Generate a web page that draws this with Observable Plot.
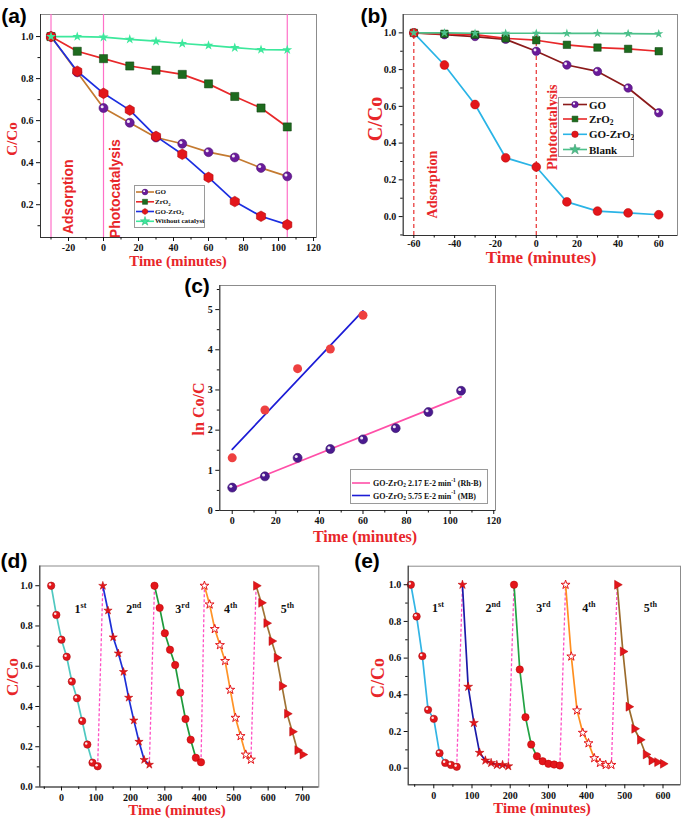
<!DOCTYPE html>
<html><head><meta charset="utf-8">
<script src="https://cdn.jsdelivr.net/npm/d3@7"></script>
<script src="https://cdn.jsdelivr.net/npm/@observablehq/plot@0.6"></script>
<style>
body{margin:0;background:#fff;}
#root{position:relative;width:685px;height:821px;overflow:hidden;background:#fff;font-family:"Liberation Serif","Times New Roman",serif;}
.t{position:absolute;white-space:nowrap;font-weight:bold;line-height:1;}
</style></head>
<body><div id="root"></div>
<script>
// ===== Panel (a) data =====
const timeA = [-30,-15,0,15,30,45,60,75,90,105];
const aGO = [1.0,0.83,0.66,0.59,0.52,0.49,0.45,0.425,0.375,0.335];
const aZrO2 = [1.0,0.93,0.895,0.86,0.84,0.82,0.775,0.715,0.66,0.57];
const aGOZrO2 = [1.0,0.835,0.73,0.65,0.525,0.44,0.33,0.215,0.145,0.105];
const aBlank = [1.0,1.0,0.997,0.987,0.978,0.967,0.958,0.947,0.938,0.937];
const aMarkers = [-30,0,105];
const aNotes = [{x:-20,y:0.238,t:"Adsorption"},{x:7,y:0.276,t:"Photocatalysis"}];
const aXTicks = [-20,0,20,40,60,80,100,120];
const aYTicks = [0.2,0.4,0.6,0.8,1.0];
// ===== Panel (b) data =====
const timeB = [-60,-45,-30,-15,0,15,30,45,60];
const bGO = [1.0,0.99,0.98,0.965,0.90,0.825,0.79,0.70,0.565];
const bZrO2 = [1.0,0.995,0.99,0.97,0.96,0.935,0.92,0.913,0.90];
const bGOZrO2 = [1.0,0.825,0.61,0.32,0.27,0.08,0.03,0.02,0.01];
const bBlank = [1.0,1.0,0.998,0.998,0.998,0.997,0.997,0.996,0.995];
const bMarkers = [-60,0];
const bNotes = [{x:-51,y:0.174,t:"Adsorption"},{x:7.8,y:0.486,t:"Photocatalysis"}];
const bXTicks = [-60,-40,-20,0,20,40,60];
const bYTicks = [0.0,0.2,0.4,0.6,0.8,1.0];
// ===== Panel (c) data =====
const timeRhB = [0,15,30,45,60,75,90,105];
const lnRhB = [0.57,0.85,1.31,1.53,1.77,2.05,2.45,2.98];
const timeMB = [0,15,30,45,60];
const lnMB = [1.31,2.5,3.53,4.02,4.86];
const cXTicks = [0,20,40,60,80,100,120];
const cYTicks = [0,1,2,3,4,5];
// ===== Panel (d) data =====
const d1x=[-30,-15,0,15,30,45,60,75,90,105];
const d1y=[1.0,0.855,0.732,0.647,0.524,0.441,0.328,0.211,0.121,0.103];
const d2x=[120,135,150,165,180,195,210,225,240,255];
const d2y=[1.0,0.877,0.744,0.664,0.572,0.444,0.331,0.225,0.135,0.111];
const d3x=[270,285,300,315,330,345,360,375,390,405];
const d3y=[1.0,0.89,0.764,0.682,0.606,0.469,0.338,0.235,0.145,0.123];
const d4x=[415,430,445,460,475,490,505,520,535,550];
const d4y=[1.0,0.907,0.785,0.705,0.626,0.483,0.344,0.253,0.161,0.136];
const d5x=[565,580,595,610,625,640,655,670,685,700];
const d5y=[1.0,0.915,0.814,0.725,0.642,0.502,0.364,0.275,0.183,0.161];
const dLabelX = [55,210,351,491,656];
const dLabelY = 0.885;
const dXTicks = [0,100,200,300,400,500,600,700];
// ===== Panel (e) data =====
const e1x=[-60,-45,-30,-15,0,15,30,45,60];
const e1y=[1.0,0.827,0.611,0.318,0.269,0.082,0.029,0.018,0.008];
const e2x=[75,90,105,120,135,150,165,180,195];
const e2y=[1.0,0.444,0.247,0.084,0.042,0.029,0.018,0.018,0.011];
const e3x=[210,225,240,255,270,285,300,315,330];
const e3y=[1.0,0.538,0.278,0.129,0.065,0.038,0.024,0.02,0.015];
const e4x=[345,360,375,390,405,420,435,450,465];
const e4y=[1.0,0.609,0.315,0.193,0.136,0.055,0.029,0.018,0.018];
const e5x=[480,495,510,525,540,555,570,585,600];
const e5y=[1.0,0.636,0.335,0.215,0.155,0.075,0.042,0.033,0.024];
const eLabelX = [11,155,287,406,567];
const eLabelY = 0.87;
const eXTicks = [0,100,200,300,400,500,600];
const cycleNames = ["1^{st}","2^{nd}","3^{rd}","4^{th}","5^{th}"];
const cdYTicks = [0.0,0.2,0.4,0.6,0.8,1.0];

// ===== helpers =====
const root = document.getElementById("root");
const SERIF = '"Liberation Serif","Times New Roman",serif';
const SANS = '"Liberation Sans",Arial,sans-serif';
const TRED = "#e8262a";
const MRED = "#e3161b";
const pts = (xs, ys) => xs.map((x,i) => ({x, y: ys[i]}));
const f1 = d3.format(".1f");
const minor = (a, b, s) => d3.range(a, b + s/2, s).map(v => +v.toFixed(3));
const darker = (c, k = 0.8) => d3.color(c).darker(k).formatHex();

function richText(sel, str, fs) {
  const parts = str.split(/(_\{[^}]*\}|\^\{[^}]*\})/).filter(s => s);
  let cur = 0;
  sel.text(null);
  parts.forEach(p => {
    let target = 0, txt = p, size = fs;
    if (p.startsWith("_{")) { target = fs*0.28; txt = p.slice(2,-1); size = fs*0.68; }
    else if (p.startsWith("^{")) { target = -fs*0.42; txt = p.slice(2,-1); size = fs*0.68; }
    sel.append("tspan").attr("dy", target - cur).attr("font-size", size).text(txt);
    cur = target;
  });
}

function sphere(data, fill, r) {
  return [
    Plot.dot(data, {x:"x", y:"y", r, fill, stroke: darker(fill), strokeWidth:0.6}),
    Plot.dot(data, {x:"x", y:"y", r: r*0.34, fill:"white", fillOpacity:0.9, dx:-r*0.3, dy:-r*0.3})
  ];
}

function panel({left, top, width, height, mt, mr, mb, ml, xd, yd, xt, xm, yt, ym, yfmt, marks, xPad = 3, xSize = 4}) {
  const p = Plot.plot({
    width, height, marginTop: mt, marginRight: mr, marginBottom: mb, marginLeft: ml,
    x: {domain: xd}, y: {domain: yd},
    style: {fontFamily: SERIF, fontSize: "10px", fontWeight: "bold", background: "transparent", overflow: "visible", color: "#111"},
    marks: [
      Plot.frame({stroke: "#8c8c8c"}),
      ...marks,
      Plot.ruleY([yd[0]], {stroke: "#333"}),
      Plot.ruleX([xd[0]], {stroke: "#333"}),
      Plot.axisX({ticks: xt, tickSize: xSize, tickPadding: xPad, tickFormat: d => String(d), label: null}),
      Plot.axisX({ticks: xm, tickSize: 2.5, fill: "none", label: null}),
      Plot.axisY({ticks: yt, tickSize: 4, tickPadding: 3, tickFormat: yfmt, label: null}),
      Plot.axisY({ticks: ym, tickSize: 2.5, fill: "none", label: null})
    ]
  });
  p.style.position = "absolute";
  p.style.left = left + "px";
  p.style.top = top + "px";
  d3.select(p).selectAll("text").each(function() {
    const s = this.textContent;
    if (s.includes("^{") || s.includes("_{")) richText(d3.select(this), s, 12);
  });
  root.appendChild(p);
  return p;
}

function addText(str, cx, cy, {size = 16, rot = 0, color = TRED, family = SERIF} = {}) {
  const el = document.createElement("div");
  el.className = "t";
  el.textContent = str;
  el.style.left = cx + "px";
  el.style.top = cy + "px";
  el.style.fontSize = size + "px";
  el.style.color = color;
  el.style.fontFamily = family;
  el.style.transform = `translate(-50%,-50%)` + (rot ? ` rotate(${rot}deg)` : "");
  root.appendChild(el);
}

function hexPath(r) {
  const p = d3.path();
  for (let i = 0; i < 6; i++) {
    const a = Math.PI/3*i + Math.PI/6;
    const x = r*Math.cos(a), y = r*Math.sin(a);
    i ? p.lineTo(x, y) : p.moveTo(x, y);
  }
  p.closePath();
  return p.toString();
}

function legend({left, top, width, height, fs, x1, x2, sx, tx, ys, rows, ss = 30}) {
  const svg = d3.create("svg").attr("width", width).attr("height", height)
    .style("position", "absolute").style("left", left + "px").style("top", top + "px")
    .attr("font-family", SERIF).attr("font-weight", "bold").attr("font-size", fs);
  svg.append("rect").attr("x", 0.5).attr("y", 0.5).attr("width", width-1).attr("height", height-1)
    .attr("fill", "white").attr("stroke", "#9a9a9a");
  rows.forEach((r, i) => {
    const y = ys[i];
    svg.append("line").attr("x1", x1).attr("x2", x2).attr("y1", y).attr("y2", y)
      .attr("stroke", r.line).attr("stroke-width", 1.6);
    if (r.sym) {
      const d = r.sym === "hexagon" ? hexPath(Math.sqrt(ss/Math.PI)*1.05)
        : d3.symbol().type({circle: d3.symbolCircle, square: d3.symbolSquare, star: d3.symbolStar}[r.sym]).size(ss)();
      svg.append("path").attr("d", d).attr("transform", `translate(${sx},${y})`)
        .attr("fill", r.fill).attr("stroke", r.stroke || darker(r.fill)).attr("stroke-width", 0.5);
      if (r.hl) {
        const rr = Math.sqrt(ss/Math.PI);
        svg.append("circle").attr("cx", sx - rr*0.3).attr("cy", y - rr*0.3).attr("r", rr*0.34).attr("fill", "white");
      }
    }
    const t = svg.append("text").attr("x", tx).attr("y", y).attr("dominant-baseline", "central").attr("fill", "#111");
    richText(t, r.label, fs);
  });
  root.appendChild(svg.node());
}

// ===== Panel (a) =====
{
  const GO = pts(timeA, aGO), Z = pts(timeA, aZrO2), GZ = pts(timeA, aGOZrO2), B = pts(timeA, aBlank);
  panel({
    left: 0, top: 0, width: 340, height: 270, mt: 14, mr: 24, mb: 33, ml: 40,
    xd: [-36, 121.7], yd: [0.044, 1.105], xPad: 2,
    xt: aXTicks, xm: minor(-30, 110, 20), yt: aYTicks, ym: minor(0.1, 0.9, 0.2), yfmt: f1,
    marks: [
      Plot.ruleX(aMarkers, {stroke: "#ff70c8", strokeWidth: 1.2}),
      Plot.text(aNotes, {x: "x", y: "y", text: "t", rotate: -90, fill: TRED, fontSize: 14, fontFamily: SANS, fontWeight: "bold"}),
      Plot.line(GO, {x: "x", y: "y", stroke: "#c47a30", strokeWidth: 1.7}),
      Plot.line(Z, {x: "x", y: "y", stroke: "#e8282a", strokeWidth: 1.7}),
      Plot.line(GZ, {x: "x", y: "y", stroke: "#1c2ee0", strokeWidth: 1.7}),
      Plot.line(B, {x: "x", y: "y", stroke: "#3de89c", strokeWidth: 1.7}),
      Plot.dot(Z, {x: "x", y: "y", symbol: "square", r: 4.6, fill: "#1e6b1e", stroke: "#0d3d0d", strokeWidth: 0.5}),
      ...sphere(GO, "#6a1b9a", 4.5),
      Plot.dot(GZ, {x: "x", y: "y", symbol: "hexagon", r: 4.6, fill: MRED, stroke: "#a00", strokeWidth: 0.5}),
      Plot.dot(B, {x: "x", y: "y", symbol: "star", r: 3.1, fill: "#3de89c"})
    ]
  });
  legend({left: 134, top: 185, width: 71, height: 43, fs: 7, x1: 2, x2: 20, sx: 11, tx: 21, ss: 26,
    ys: [7, 16.8, 26.5, 36.3],
    rows: [
      {label: "GO", line: "#c47a30", sym: "circle", fill: "#6a1b9a", hl: true},
      {label: "ZrO_{2}", line: "#e8282a", sym: "square", fill: "#1e6b1e"},
      {label: "GO-ZrO_{2}", line: "#1c2ee0", sym: "hexagon", fill: MRED},
      {label: "Without catalyst", line: "#3de89c", sym: "star", fill: "#3de89c"}
    ]});
  addText("(a)", 14, 15, {size: 21, color: "#000", family: SANS});
  addText("C/Co", 12, 139, {size: 15, rot: -90});
  addText("Time (minutes)", 178, 261, {size: 15});
}

// ===== Panel (b) =====
{
  const GO = pts(timeB, bGO), Z = pts(timeB, bZrO2), GZ = pts(timeB, bGOZrO2), B = pts(timeB, bBlank);
  const yd = [-0.103, 1.1];
  panel({
    left: 340, top: 0, width: 345, height: 270, mt: 14, mr: 8, mb: 35, ml: 62.7,
    xd: [-65.2, 69.2], yd, xPad: 1, xSize: 3,
    xt: bXTicks, xm: minor(-50, 50, 20), yt: bYTicks, ym: minor(-0.1, 0.9, 0.2), yfmt: f1,
    marks: [
      Plot.ruleX(bMarkers, {y1: yd[0], y2: 1.0, stroke: "#e83030", strokeWidth: 1.2, strokeDasharray: "4,3"}),
      Plot.text(bNotes, {x: "x", y: "y", text: "t", rotate: -90, fill: TRED, fontSize: 14, fontFamily: SERIF, fontWeight: "bold"}),
      Plot.line(GO, {x: "x", y: "y", stroke: "#8b1a1a", strokeWidth: 1.7}),
      Plot.line(Z, {x: "x", y: "y", stroke: "#e8282a", strokeWidth: 1.7}),
      Plot.line(GZ, {x: "x", y: "y", stroke: "#2ab4e6", strokeWidth: 1.7}),
      Plot.line(B, {x: "x", y: "y", stroke: "#4cc08a", strokeWidth: 1.7}),
      ...sphere(GO, "#6a1b9a", 4.2),
      Plot.dot(Z, {x: "x", y: "y", symbol: "square", r: 4.2, fill: "#1e6b1e", stroke: "#0d3d0d", strokeWidth: 0.5}),
      Plot.dot(GZ, {x: "x", y: "y", r: 4.4, fill: MRED, stroke: "#b00", strokeWidth: 0.5}),
      Plot.dot(B, {x: "x", y: "y", symbol: "star", r: 2.9, fill: "#4cc08a"})
    ]
  });
  legend({left: 558, top: 97, width: 76, height: 60, fs: 11, x1: 5, x2: 29, sx: 17, tx: 31, ss: 34,
    ys: [7.5, 22, 37.3, 52.5],
    rows: [
      {label: "GO", line: "#8b1a1a", sym: "circle", fill: "#6a1b9a", hl: true},
      {label: "ZrO_{2}", line: "#e8282a", sym: "square", fill: "#1e6b1e"},
      {label: "GO-ZrO_{2}", line: "#2ab4e6", sym: "circle", fill: MRED},
      {label: "Blank", line: "#4cc08a", sym: "star", fill: "#4cc08a"}
    ]});
  addText("(b)", 374, 15, {size: 21, color: "#000", family: SANS});
  addText("C/Co", 375, 119, {size: 20, rot: -90});
  addText("Time (minutes)", 541, 257, {size: 17});
}

// ===== Panel (c) =====
{
  const R = pts(timeRhB, lnRhB), M = pts(timeMB, lnMB);
  panel({
    left: 180, top: 270, width: 330, height: 280, mt: 15, mr: 15, mb: 40, ml: 39.3,
    xd: [-5.7, 120.8], yd: [0, 5.6], xPad: 2,
    xt: cXTicks, xm: minor(10, 110, 20), yt: cYTicks, ym: minor(0.5, 5.5, 1), yfmt: d => String(d),
    marks: [
      Plot.linearRegressionY(R, {x: "x", y: "y", stroke: "#ff4fa8", strokeWidth: 1.7, ci: 0}),
      Plot.linearRegressionY(M, {x: "x", y: "y", stroke: "#1c1cd6", strokeWidth: 1.7, ci: 0}),
      Plot.dot(M, {x: "x", y: "y", r: 4.5, fill: "#ee4040"}),
      ...sphere(R, "#4b1a8f", 4.5)
    ]
  });
  legend({left: 350, top: 469, width: 138, height: 35, fs: 8, x1: 2, x2: 20, tx: 23,
    ys: [14, 26.5],
    rows: [
      {label: "GO-ZrO_{2} 2.17 E-2 min^{-1} (Rh-B)", line: "#ff4fa8"},
      {label: "GO-ZrO_{2} 5.75 E-2 min^{-1} (MB)", line: "#1c1cd6"}
    ]});
  addText("(c)", 197, 285, {size: 21, color: "#000", family: SANS});
  addText("ln Co/C", 199, 409, {size: 16, rot: -90});
  addText("Time (minutes)", 365, 537, {size: 16});
}

// ===== cycle panels =====
function cycleMarks(cycles, styles, r) {
  const out = [];
  const links = cycles.slice(0, -1).map((c, i) => ({x1: c.at(-1).x, y1: c.at(-1).y, x2: cycles[i+1][0].x, y2: cycles[i+1][0].y}));
  out.push(Plot.link(links, {x1: "x1", y1: "y1", x2: "x2", y2: "y2", stroke: "#ff4fc4", strokeWidth: 1.3, strokeDasharray: "3,2"}));
  cycles.forEach((c, i) => {
    const s = styles[i];
    out.push(Plot.line(c, {x: "x", y: "y", stroke: s.line, strokeWidth: 1.7}));
    if (s.hl) out.push(...sphere(c, s.fill, r));
    else out.push(Plot.dot(c, {x: "x", y: "y", symbol: s.sym, r: s.r || r, fill: s.fill, stroke: s.stroke || "#b00", strokeWidth: s.sw || 0.5, rotate: s.rotate || 0}));
  });
  return out;
}

// ===== Panel (d) =====
{
  const cycles = [pts(d1x,d1y), pts(d2x,d2y), pts(d3x,d3y), pts(d4x,d4y), pts(d5x,d5y)];
  const styles = [
    {line: "#4fc8c0", fill: MRED, hl: true},
    {line: "#1d2fd6", sym: "star", fill: MRED, r: 2.6},
    {line: "#1e9a3c", sym: "circle", fill: MRED},
    {line: "#ff9326", sym: "star", fill: "white", stroke: MRED, sw: 1, r: 2.8},
    {line: "#a07335", sym: "triangle", fill: MRED, rotate: 90, r: 3.3}
  ];
  const labels = cycleNames.map((t, i) => ({x: dLabelX[i], y: dLabelY, t}));
  panel({
    left: 0, top: 545, width: 345, height: 276, mt: 20.5, mr: 26.7, mb: 34.5, ml: 39.3,
    xd: [-63, 747], yd: [0, 1.098],
    xt: dXTicks, xm: minor(-50, 650, 100), yt: cdYTicks, ym: minor(0.1, 0.9, 0.2), yfmt: f1,
    marks: [
      ...cycleMarks(cycles, styles, 3.7),
      Plot.text(labels, {x: "x", y: "y", text: "t", fontSize: 12, fontFamily: SERIF, fontWeight: "bold", fill: "#111"})
    ]
  });
  addText("(d)", 14, 560, {size: 21, color: "#000", family: SANS});
  addText("C/Co", 12, 677, {size: 17, rot: -90});
  addText("Time (minutes)", 177, 810, {size: 15});
}

// ===== Panel (e) =====
{
  const cycles = [pts(e1x,e1y), pts(e2x,e2y), pts(e3x,e3y), pts(e4x,e4y), pts(e5x,e5y)];
  const styles = [
    {line: "#33b5e5", fill: MRED, hl: true},
    {line: "#1a1aa8", sym: "star", fill: MRED, r: 2.8},
    {line: "#22a344", sym: "circle", fill: MRED},
    {line: "#ff8f1f", sym: "star", fill: "white", stroke: MRED, sw: 1, r: 2.8},
    {line: "#9b6b2b", sym: "triangle", fill: MRED, rotate: 90, r: 3.3}
  ];
  const labels = cycleNames.map((t, i) => ({x: eLabelX[i], y: eLabelY, t}));
  panel({
    left: 340, top: 545, width: 345, height: 276, mt: 20.7, mr: 5, mb: 36.7, ml: 67.7,
    xd: [-67, 645.8], yd: [-0.0905, 1.101],
    xt: eXTicks, xm: minor(-50, 550, 100), yt: cdYTicks, ym: minor(-0.1, 0.9, 0.2).filter(v => v > -0.09), yfmt: f1,
    marks: [
      ...cycleMarks(cycles, styles, 3.7),
      Plot.text(labels, {x: "x", y: "y", text: "t", fontSize: 12, fontFamily: SERIF, fontWeight: "bold", fill: "#111"})
    ]
  });
  addText("(e)", 367, 560, {size: 21, color: "#000", family: SANS});
  addText("C/Co", 378, 678, {size: 18, rot: -90});
  addText("Time (minutes)", 542, 808, {size: 15});
}
</script>
</body></html>
